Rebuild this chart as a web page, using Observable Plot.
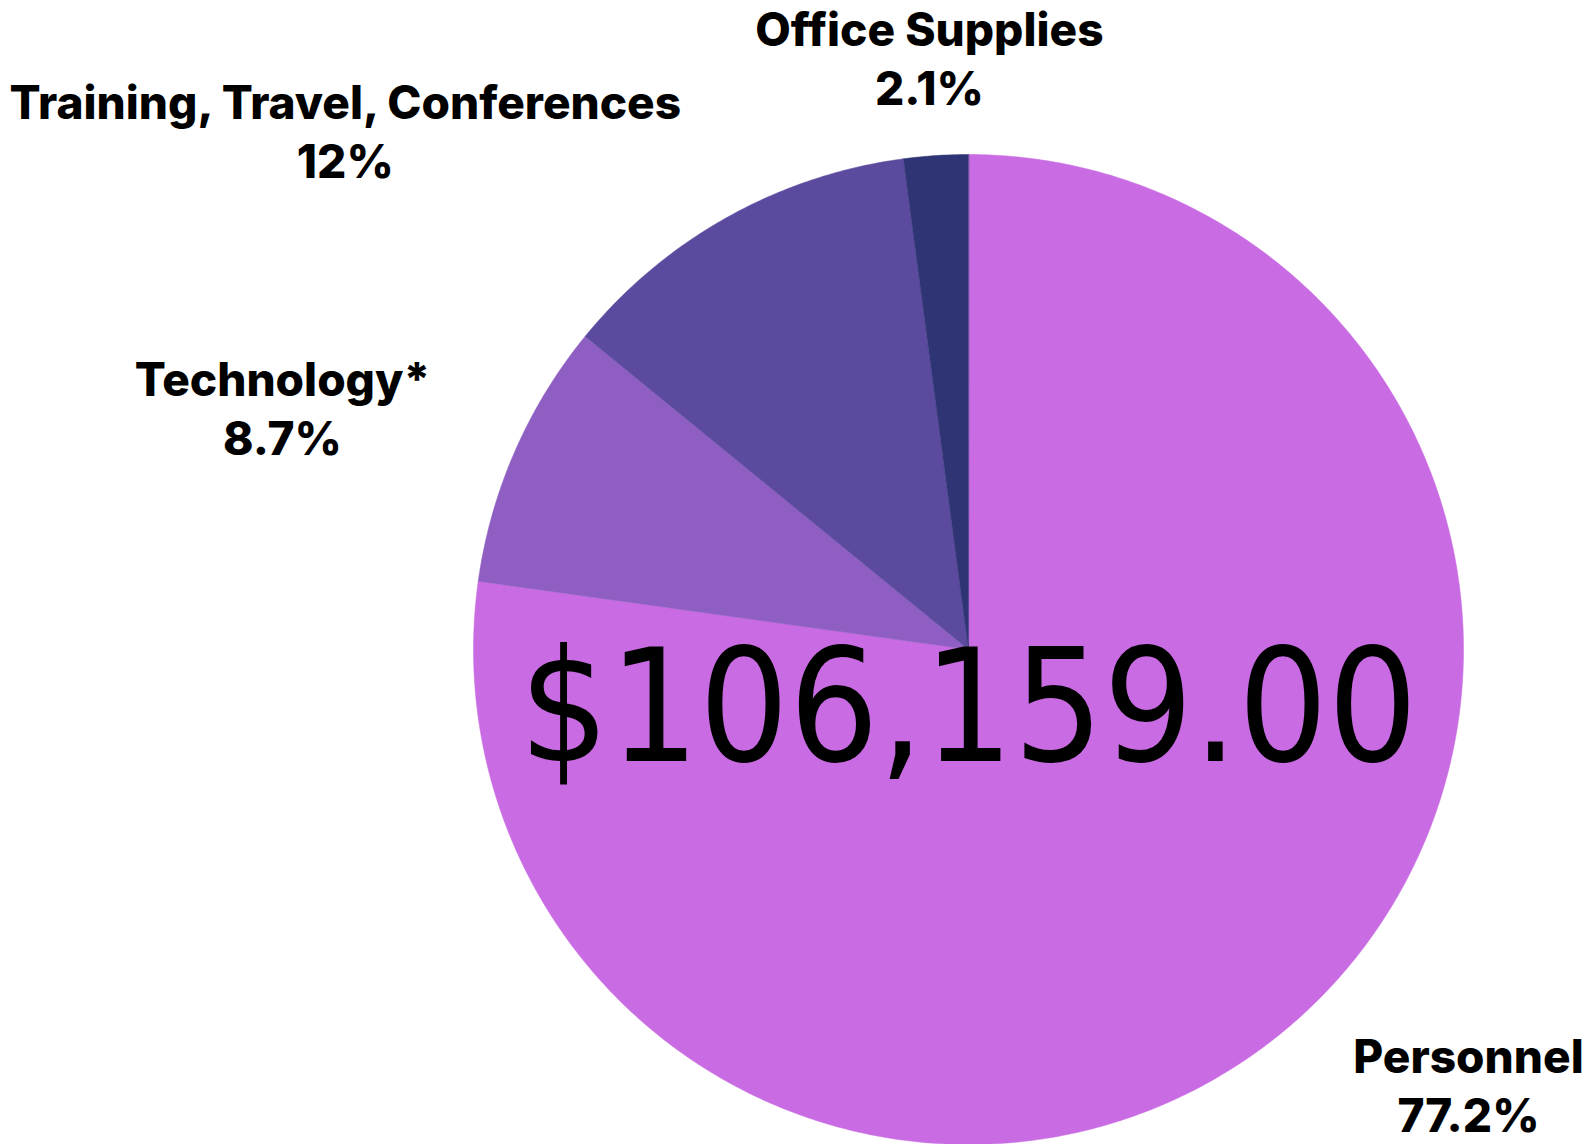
<!DOCTYPE html>
<html>
<head>
<meta charset="utf-8">
<script src="https://cdn.jsdelivr.net/npm/d3@7"></script>
<script src="https://cdn.jsdelivr.net/npm/@observablehq/plot@0.6"></script>
<style>
  html, body { margin: 0; padding: 0; background: #ffffff; }
  #chart svg { display: block; }
</style>
</head>
<body>
<div id="chart"></div>
<script>
// ---- data ----
const categories = ["Personnel", "Technology*", "Training, Travel, Conferences", "Office Supplies"];
const shares = [77.2, 8.7, 12, 2.1];
const colors = ["#c96be3", "#8f5ec3", "#5b4a9e", "#2f3574"];
const totalLabel = "$106,159.00";

// ---- layout (label anchor positions in pie-radius units) ----
const labelX = [1.010, -1.386, -1.259, -0.079];
const labelY = [-0.770, 0.598, 1.157, 1.305];

// build slice polygons in data units (unit circle, clockwise from top)
const sum = d3.sum(shares);
const slices = [];
let start = 0;
categories.forEach((c, i) => {
  const end = start + shares[i] / sum * 2 * Math.PI;
  slices.push({category: c, x: 0, y: 0});
  const n = Math.max(2, Math.ceil((end - start) / (Math.PI / 360)));
  for (let k = 0; k <= n; k++) {
    const a = start + (end - start) * k / n;
    slices.push({category: c, x: Math.sin(a), y: Math.cos(a)});
  }
  start = end;
});

const labels = categories.map((c, i) => ({
  text: `${c}\n${shares[i]}%`, x: labelX[i], y: labelY[i]
}));

const chart = Plot.plot({
  width: 1593,
  height: 1144,
  marginLeft: 473,
  marginRight: 130,
  marginTop: 154,
  marginBottom: 0,
  x: {domain: [-1, 1], axis: null},
  y: {domain: [-1, 1], axis: null},
  color: {domain: categories, range: colors},
  marks: [
    Plot.line(slices, {x: "x", y: "y", z: "category", fill: "category", stroke: "category", strokeWidth: 0.5, curve: "linear-closed"}),
    Plot.text([totalLabel], {x: 0, y: 0, text: d => d, fontSize: 157, fontFamily: "'DejaVu Sans Condensed', 'DejaVu Sans', sans-serif", fontStretch: "condensed", fill: "#000", lineAnchor: "top", textAnchor: "middle"}),
    Plot.text(labels, {x: "x", y: "y", text: "text", fontSize: 46, fontWeight: 800, fontFamily: "Inter, 'Noto Sans', sans-serif", fill: "#000", lineAnchor: "top", textAnchor: "middle", lineHeight: 1.29})
  ]
});
document.getElementById("chart").appendChild(chart);
</script>
</body>
</html>
